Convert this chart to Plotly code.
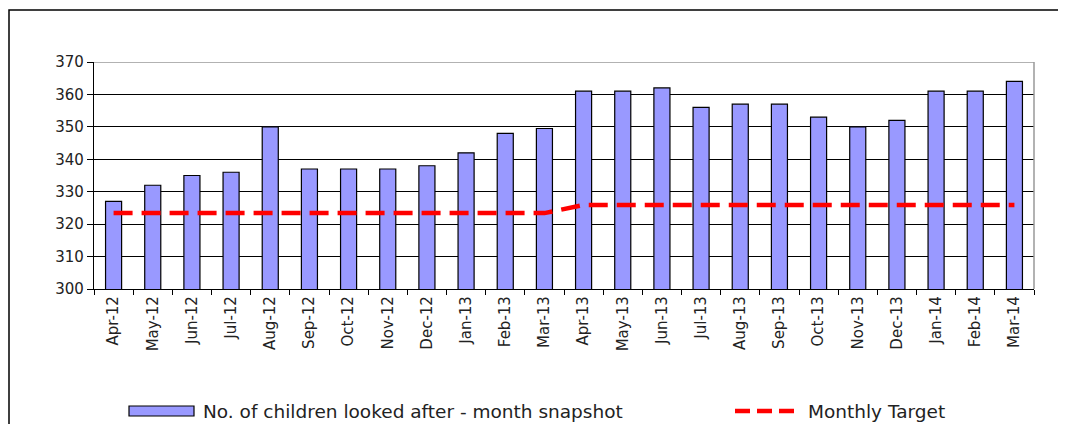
import plotly.graph_objects as go

months = ["Apr-12", "May-12", "Jun-12", "Jul-12", "Aug-12", "Sep-12", "Oct-12", "Nov-12",
          "Dec-12", "Jan-13", "Feb-13", "Mar-13", "Apr-13", "May-13", "Jun-13", "Jul-13",
          "Aug-13", "Sep-13", "Oct-13", "Nov-13", "Dec-13", "Jan-14", "Feb-14", "Mar-14"]
children = [327, 332, 335, 336, 350, 337, 337, 337, 338, 342, 348, 349.5,
            361, 361, 362, 356, 357, 357, 353, 350, 352, 361, 361, 364]
target = [323.4] * 12 + [325.9] * 12
y_ticks = [300, 310, 320, 330, 340, 350, 360, 370]

FONT = "DejaVu Sans, Liberation Sans, Arial, sans-serif"
OFF = 8  # page body margin
W, H = 1066 - OFF, 424 - OFF
L = 94 - OFF
T = 62 - OFF
R = W - (1034 - OFF)
B = H - (289 - OFF)
pw, ph = W - L - R, H - T - B

def px(x):
    return (x - OFF - L) / pw

def py(y):
    return (H - B - (y - OFF)) / ph

fig = go.Figure()
fig.add_trace(go.Bar(x=months, y=children, marker=dict(color="#9999FF", line=dict(color="#000000", width=1.2)),
                     name="No. of children looked after - month snapshot", showlegend=False))
fig.add_trace(go.Scatter(x=months, y=target, mode="lines",
                         line=dict(color="#FF0000", width=4.5, dash="19px,9px"),
                         name="Monthly Target", showlegend=False))

shapes = [
    dict(type="line", xref="paper", yref="y", x0=0, x1=1, y0=370, y1=370, line=dict(color="#999999", width=1.5)),
    dict(type="line", xref="paper", yref="paper", x0=1, x1=1, y0=0, y1=1, line=dict(color="#999999", width=1.5)),
    dict(type="rect", xref="paper", yref="paper", x0=px(9), x1=px(1062), y0=py(440), y1=py(10),
         line=dict(color="#000000", width=1.5), fillcolor="rgba(0,0,0,0)"),
    dict(type="rect", xref="paper", yref="paper", x0=px(129), x1=px(194), y0=py(416), y1=py(406),
         line=dict(color="#000000", width=1.2), fillcolor="#9999FF"),
    dict(type="line", xref="paper", yref="paper", x0=px(735), x1=px(797), y0=py(411), y1=py(411),
         line=dict(color="#FF0000", width=4.5, dash="15px,7px")),
]
annotations = [
    dict(xref="paper", yref="paper", x=px(201), y=py(411), text="No. of children looked after - month snapshot",
         showarrow=False, xanchor="left", yanchor="middle", font=dict(family=FONT, size=18.5, color="#222222")),
    dict(xref="paper", yref="paper", x=px(806), y=py(411), text="Monthly Target",
         showarrow=False, xanchor="left", yanchor="middle", font=dict(family=FONT, size=18.5, color="#222222")),
]

fig.update_layout(
    width=W, height=H,
    margin=dict(l=L, r=R, t=T, b=B, pad=0),
    paper_bgcolor="white", plot_bgcolor="white",
    bargap=0.59,
    font=dict(family=FONT, size=15, color="#222222"),
    shapes=shapes, annotations=annotations,
    xaxis=dict(type="category", tickangle=-90, showline=True, linecolor="#000000", linewidth=1.2,
               ticks="outside", tickson="boundaries", ticklen=5, tickcolor="#000000",
               showgrid=False, automargin=False, tickfont=dict(family=FONT, size=15, color="#222222")),
    yaxis=dict(range=[300, 370], tickvals=y_ticks, showline=True, linecolor="#000000", linewidth=1.2,
               ticks="outside", ticklen=6, tickcolor="#000000", gridcolor="#000000", gridwidth=1.2,
               zeroline=False, automargin=False, tickfont=dict(family=FONT, size=15, color="#222222")),
)

fig.write_html("out.html")
